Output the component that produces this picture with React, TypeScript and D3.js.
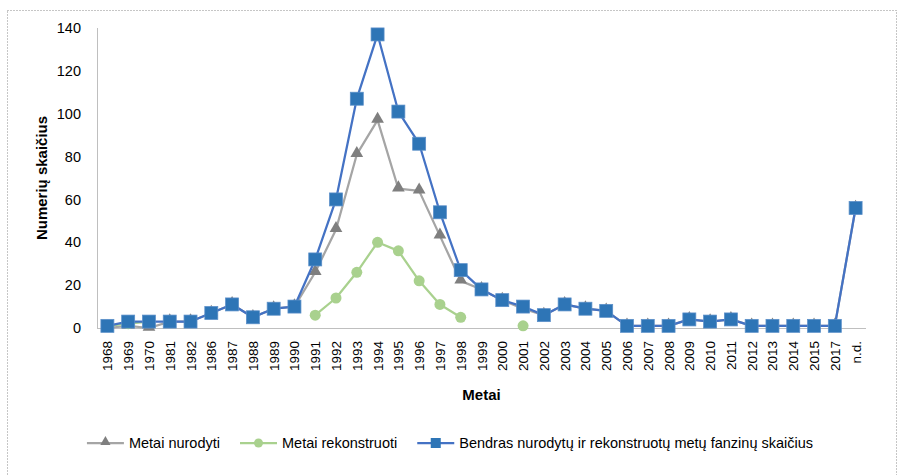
import { line, scaleLinear, scalePoint, select, symbol, symbolTriangle } from 'd3';
import { useEffect, useRef } from 'react';

const years = [
  '1968', '1969', '1970', '1981', '1982', '1986', '1987', '1988', '1989', '1990',
  '1991', '1992', '1993', '1994', '1995', '1996', '1997', '1998', '1999', '2000',
  '2001', '2002', '2003', '2004', '2005', '2006', '2007', '2008', '2009', '2010',
  '2011', '2012', '2013', '2014', '2015', '2017', 'n.d.'
];

// metai nurodyti
const nurodyti: (number | null)[] = [
  0, 1, 0, 3, 3, 7, 11, 5, 9, 10,
  26, 46, 81, 97, 65, 64, 43, 22, 18, 13,
  9, 6, 11, 9, 8, 1, 1, 1, 4, 3,
  4, 1, 1, 1, 1, 1, 56
];

// metai rekonstruoti
const rekonstruoti: (number | null)[] = [
  1, 2, 3, null, null, null, null, null, null, null,
  6, 14, 26, 40, 36, 22, 11, 5, null, null,
  1, null, null, null, null, null, null, null, null, null,
  null, null, null, null, null, null, null
];

// bendras skaicius
const bendras: (number | null)[] = [
  1, 3, 3, 3, 3, 7, 11, 5, 9, 10,
  32, 60, 107, 137, 101, 86, 54, 27, 18, 13,
  10, 6, 11, 9, 8, 1, 1, 1, 4, 3,
  4, 1, 1, 1, 1, 1, 56
];

const yTicks = [0, 20, 40, 60, 80, 100, 120, 140];

const legendLabels = [
  'Metai nurodyti',
  'Metai rekonstruoti',
  'Bendras nurodytų ir rekonstruotų metų fanzinų skaičius'
];

const font = "'Liberation Sans', Arial, sans-serif";

function App(): JSX.Element {
  const svgRef = useRef<SVGSVGElement | null>(null);

  useEffect(() => {
    if (svgRef.current) svgRef.current.innerHTML = '';
    const svg = select(svgRef.current);

    const left = 97;
    const right = 866;
    const top = 28;
    const bottom = 328;

    const x = scalePoint<string>().domain(years).range([left, right]).padding(0.5);
    const y = scaleLinear().domain([0, 140]).range([bottom, top]);

    // dotted frame
    svg
      .append('rect')
      .attr('x', 7.5)
      .attr('y', 10.5)
      .attr('width', 889)
      .attr('height', 480)
      .attr('fill', 'none')
      .attr('stroke', '#8c8c8c')
      .attr('stroke-width', 1)
      .attr('stroke-dasharray', '1,2');

    // axes
    svg
      .append('line')
      .attr('x1', left + 0.5)
      .attr('x2', left + 0.5)
      .attr('y1', top)
      .attr('y2', bottom)
      .attr('stroke', '#bfbfbf')
      .attr('stroke-width', 1);
    svg
      .append('line')
      .attr('x1', left)
      .attr('x2', right)
      .attr('y1', bottom + 0.5)
      .attr('y2', bottom + 0.5)
      .attr('stroke', '#bfbfbf')
      .attr('stroke-width', 1);

    yTicks.forEach((t) => {
      svg
        .append('text')
        .attr('x', 81)
        .attr('y', y(t))
        .attr('dy', '0.35em')
        .attr('text-anchor', 'end')
        .attr('font-family', font)
        .attr('font-size', '14.5px')
        .attr('fill', '#000')
        .text(t);
    });

    years.forEach((yr) => {
      const px = x(yr) as number;
      svg
        .append('text')
        .attr('transform', `translate(${px + 5},${bottom + 13}) rotate(-90)`)
        .attr('text-anchor', 'end')
        .attr('font-family', font)
        .attr('font-size', '13.5px')
        .attr('fill', '#000')
        .text(yr);
    });

    // axis titles
    svg
      .append('text')
      .attr('transform', `translate(47,${(top + bottom) / 2}) rotate(-90)`)
      .attr('text-anchor', 'middle')
      .attr('font-family', font)
      .attr('font-size', '15px')
      .attr('font-weight', 'bold')
      .text('Numerių skaičius');
    svg
      .append('text')
      .attr('x', (left + right) / 2)
      .attr('y', 400)
      .attr('text-anchor', 'middle')
      .attr('font-family', font)
      .attr('font-size', '15px')
      .attr('font-weight', 'bold')
      .text('Metai');

    const lineGen = line<number | null>()
      .defined((d) => d !== null)
      .x((_d, i) => x(years[i]) as number)
      .y((d) => y(d as number));

    const triangle = symbol().type(symbolTriangle).size(70);

    // gray series
    svg
      .append('path')
      .datum(nurodyti)
      .attr('d', lineGen)
      .attr('fill', 'none')
      .attr('stroke', '#a5a5a5')
      .attr('stroke-width', 2.25)
      .attr('stroke-linejoin', 'round');
    nurodyti.forEach((d, i) => {
      if (d === null) return;
      svg
        .append('path')
        .attr('d', triangle())
        .attr('transform', `translate(${x(years[i])},${y(d) - 1})`)
        .attr('fill', '#7f7f7f');
    });

    // green series
    svg
      .append('path')
      .datum(rekonstruoti)
      .attr('d', lineGen)
      .attr('fill', 'none')
      .attr('stroke', '#a9d18e')
      .attr('stroke-width', 2.25)
      .attr('stroke-linejoin', 'round');
    rekonstruoti.forEach((d, i) => {
      if (d === null) return;
      svg
        .append('circle')
        .attr('cx', x(years[i]) as number)
        .attr('cy', y(d))
        .attr('r', 5.5)
        .attr('fill', '#a9d18e');
    });

    // blue series
    svg
      .append('path')
      .datum(bendras)
      .attr('d', lineGen)
      .attr('fill', 'none')
      .attr('stroke', '#4472c4')
      .attr('stroke-width', 2.25)
      .attr('stroke-linejoin', 'round');
    bendras.forEach((d, i) => {
      if (d === null) return;
      svg
        .append('rect')
        .attr('x', (x(years[i]) as number) - 6.5)
        .attr('y', y(d) - 6.5)
        .attr('width', 13)
        .attr('height', 13)
        .attr('fill', '#2e75b6')
        .attr('stroke', '#5b8fc9')
        .attr('stroke-width', 0.75);
    });

    // legend, laid out one after another and centred
    const ly = 443;
    const colors = ['#a5a5a5', '#a9d18e', '#4472c4'];
    const marks = ['tri', 'circle', 'rect'];
    const lineW = 37;
    const gap = 5;
    const itemGap = 20;
    const legend = svg.append('g');
    let cursor = 0;
    legendLabels.forEach((label, i) => {
      const g = legend.append('g').attr('transform', `translate(${cursor},0)`);
      g.append('line')
        .attr('x1', 0)
        .attr('x2', lineW)
        .attr('y1', ly)
        .attr('y2', ly)
        .attr('stroke', colors[i])
        .attr('stroke-width', 2.25);
      const cx = lineW / 2;
      if (marks[i] === 'tri') {
        g.append('path')
          .attr('d', symbol().type(symbolTriangle).size(45)())
          .attr('transform', `translate(${cx},${ly - 1})`)
          .attr('fill', '#7f7f7f');
      } else if (marks[i] === 'circle') {
        g.append('circle').attr('cx', cx).attr('cy', ly).attr('r', 4.5).attr('fill', '#a9d18e');
      } else {
        g.append('rect')
          .attr('x', cx - 5)
          .attr('y', ly - 5)
          .attr('width', 10)
          .attr('height', 10)
          .attr('fill', '#2e75b6');
      }
      const t = g
        .append('text')
        .attr('x', lineW + gap)
        .attr('y', ly)
        .attr('dy', '0.35em')
        .attr('font-family', font)
        .attr('font-size', '14.5px')
        .attr('fill', '#000')
        .text(label);
      const w = (t.node() as SVGTextElement).getComputedTextLength();
      cursor += lineW + gap + w + itemGap;
    });
    const total = cursor - itemGap;
    legend.attr('transform', `translate(${450 - total / 2},0)`);
  }, []);

  return (
    <div style={{ position: 'absolute', left: 0, top: 0 }}>
      <svg ref={svgRef} width={900} height={475} style={{ display: 'block' }} />
    </div>
  );
}

export default App;
